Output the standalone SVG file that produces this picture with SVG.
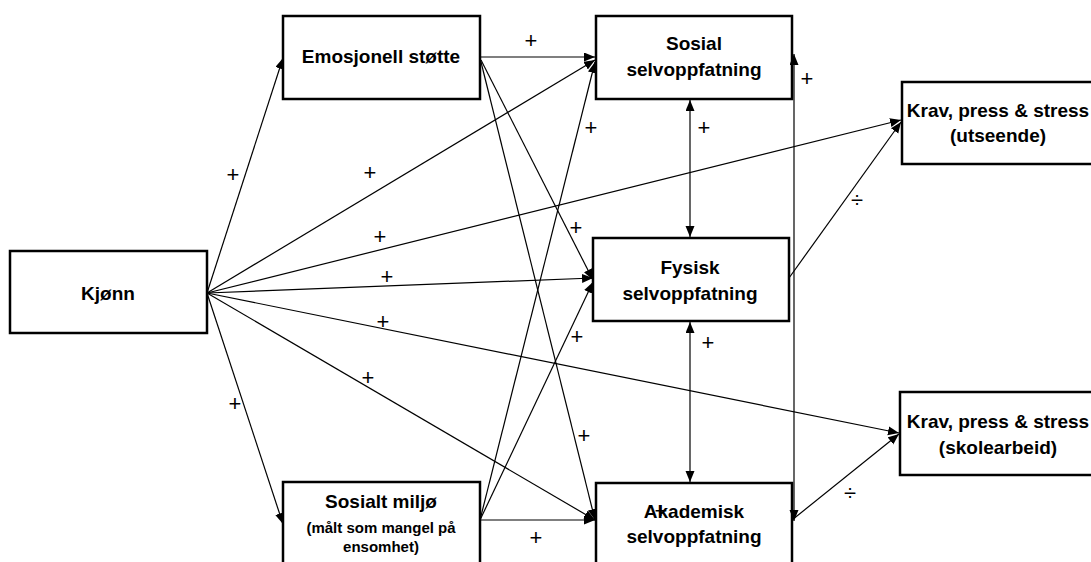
<svg xmlns="http://www.w3.org/2000/svg" width="1091" height="562" viewBox="0 0 1091 562">
<style>
.box{fill:#fff;stroke:#000;stroke-width:2.5}
.t{font-family:"Liberation Sans",Arial,sans-serif;font-weight:bold;font-size:19px;text-anchor:middle;fill:#000}
.s{font-size:15px}
.c{stroke:#000;stroke-width:1.2;fill:none;marker-end:url(#ah)}
.d{marker-start:url(#ah)}
.l{font-family:"Liberation Sans",Arial,sans-serif;font-size:22px;text-anchor:middle;fill:#000}
</style>
<defs>
<marker id="ah" markerUnits="userSpaceOnUse" markerWidth="12" markerHeight="10" refX="11" refY="4.5" orient="auto-start-reverse">
<path d="M0,0 L11,4.5 L0,9 z" fill="#000"/>
</marker>
</defs>
<rect width="1091" height="562" fill="#fff"/>
<g id="kjonn"><rect class="box" x="10" y="251" width="197" height="82"/><text class="t" x="108" y="300">Kjønn</text></g>
<g id="emosjonell"><rect class="box" x="283" y="16" width="197" height="83"/><text class="t" x="381" y="63">Emosjonell støtte</text></g>
<g id="sosialtmiljo"><rect class="box" x="283" y="482" width="197" height="90"/><text class="t" x="381" y="508">Sosialt miljø</text><text class="t s" x="381" y="533">(målt som mangel på</text><text class="t s" x="381" y="552">ensomhet)</text></g>
<g id="sosial"><rect class="box" x="596" y="16" width="196" height="83"/><text class="t" x="694" y="50">Sosial</text><text class="t" x="694" y="76">selvoppfatning</text></g>
<g id="fysisk"><rect class="box" x="593" y="238" width="196" height="83"/><text class="t" x="690" y="274">Fysisk</text><text class="t" x="690" y="300">selvoppfatning</text></g>
<g id="akademisk"><rect class="box" x="596" y="483" width="196" height="90"/><text class="t" x="694" y="518">Akademisk</text><text class="t" x="694" y="543">selvoppfatning</text></g>
<g id="kravutseende"><rect class="box" x="902" y="82" width="196" height="82"/><text class="t" x="998" y="117">Krav, press &amp; stress</text><text class="t" x="998" y="142">(utseende)</text></g>
<g id="kravskole"><rect class="box" x="900" y="392" width="198" height="83"/><text class="t" x="998" y="428">Krav, press &amp; stress</text><text class="t" x="998" y="454">(skolearbeid)</text></g>
<g id="connectors">
<line class="c" x1="207" y1="293" x2="283" y2="58"/>
<line class="c" x1="207" y1="293" x2="595" y2="60"/>
<line class="c" x1="207" y1="293" x2="901" y2="120"/>
<line class="c" x1="207" y1="293" x2="593" y2="278"/>
<line class="c" x1="207" y1="293" x2="899" y2="433"/>
<line class="c" x1="207" y1="293" x2="595" y2="520"/>
<line class="c" x1="207" y1="293" x2="283" y2="524"/>
<line class="c" x1="481" y1="57" x2="595" y2="57"/>
<line class="c" x1="481" y1="60" x2="593" y2="280"/>
<line class="c" x1="481" y1="62" x2="595" y2="520"/>
<line class="c" x1="480" y1="520" x2="595" y2="62"/>
<line class="c" x1="480" y1="520" x2="593" y2="282"/>
<line class="c" x1="480" y1="520" x2="595" y2="520"/>
<line class="c" x1="789" y1="278" x2="901" y2="122"/>
<line class="c" x1="792" y1="520" x2="899" y2="434"/>
<line class="c d" x1="690" y1="100" x2="690" y2="237"/>
<line class="c d" x1="690" y1="322" x2="690" y2="482"/>
<line class="c d" x1="794" y1="54" x2="794" y2="521"/>
</g>
<g id="labels">
<text class="l" x="233" y="182">+</text>
<text class="l" x="370" y="180">+</text>
<text class="l" x="380" y="244">+</text>
<text class="l" x="387" y="284">+</text>
<text class="l" x="383" y="329">+</text>
<text class="l" x="368" y="385">+</text>
<text class="l" x="235" y="411">+</text>
<text class="l" x="531" y="48">+</text>
<text class="l" x="591" y="135">+</text>
<text class="l" x="576" y="235">+</text>
<text class="l" x="577" y="344">+</text>
<text class="l" x="584" y="443">+</text>
<text class="l" x="536" y="545">+</text>
<text class="l" x="704" y="135">+</text>
<text class="l" x="708" y="350">+</text>
<text class="l" x="807" y="86">+</text>
<text class="l" x="661" y="518">+</text>
<text class="l" x="857" y="207">÷</text>
<text class="l" x="850" y="500">÷</text>
</g>
</svg>
